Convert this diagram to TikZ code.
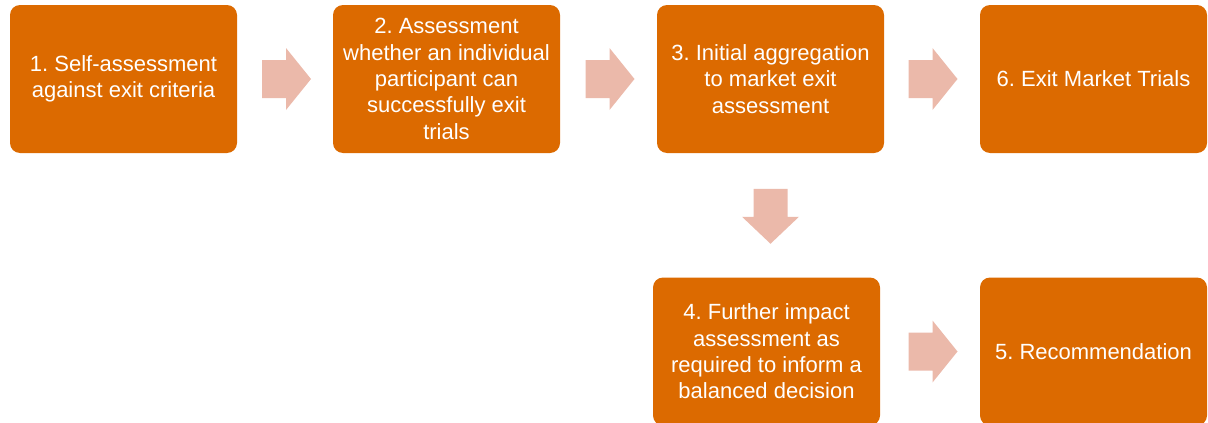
\documentclass[tikz,border=0pt]{standalone}
\usepackage{fontspec}
\setmainfont{Liberation Sans}
\usetikzlibrary{calc}
\frenchspacing
\definecolor{boxorange}{HTML}{DC6A00}
\definecolor{arrowpink}{HTML}{EBB9AA}
\tikzset{
  stepbox/.style={fill=boxorange, rounded corners=10pt, minimum width=227pt,
    minimum height=148pt, inner sep=0pt, text=white, align=center,
    font=\fontsize{22}{26.3}\selectfont\frenchspacing},
  blockarrow/.style={fill=arrowpink}
}
\newcommand\rightblock[1]{\fill[blockarrow] (#1) +(-24.5,-19) -- +(-0.5,-19) -- +(-0.5,-31) -- +(24.5,0) -- +(-0.5,31) -- +(-0.5,19) -- +(-24.5,19) -- cycle;}
\newcommand\downblock[1]{\fill[blockarrow] (#1) +(-17,-27.5) -- +(17,-27.5) -- +(17,0.5) -- +(28.5,0.5) -- +(0,27.5) -- +(-28.5,0.5) -- +(-17,0.5) -- cycle;}
\begin{document}
\begin{tikzpicture}[x=1pt,y=-1pt]
\useasboundingbox (0,0) rectangle (1208,423);
\clip (0,0) rectangle (1208,423);
\node[stepbox] (b1) at (123.5,79) {1. Self-assessment\\against exit criteria};
\node[stepbox] (b2) at (446.5,79) {2. Assessment\\whether an individual\\participant can\\successfully exit\\trials};
\node[stepbox] (b3) at (770.5,79) {3. Initial aggregation\\to market exit\\assessment};
\node[stepbox] (b6) at (1093.5,79) {6. Exit Market Trials};
\node[stepbox] (b4) at (766.5,351.5) {4. Further impact\\assessment as\\required to inform a\\balanced decision};
\node[stepbox] (b5) at (1093.5,351.5) {5. Recommendation};
\coordinate (a12) at ($(b1.east)!0.5!(b2.west)+(1.5,0)$);
\coordinate (a23) at ($(b2.east)!0.5!(b3.west)+(1.5,0)$);
\coordinate (a36) at ($(b3.east)!0.5!(b6.west)+(1,0)$);
\coordinate (a45) at ($(b4.east)!0.5!(b5.west)+(3,0)$);
\coordinate (a34) at ($(b3.south)!0.5!(b3.south|-b4.north)+(0,1)$);
\rightblock{a12}
\rightblock{a23}
\rightblock{a36}
\rightblock{a45}
\downblock{a34}
\end{tikzpicture}
\end{document}
